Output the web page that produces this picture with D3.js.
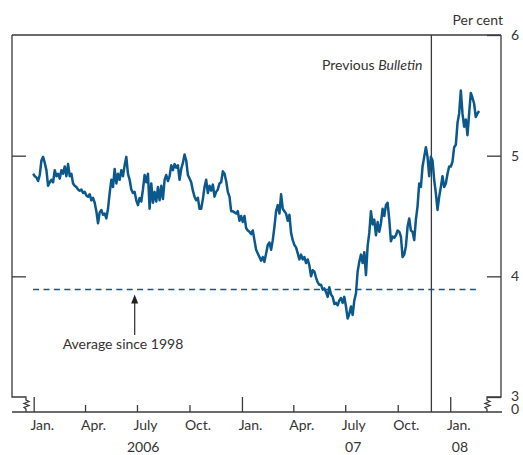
<!DOCTYPE html>
<html>
<head>
<meta charset="utf-8">
<script src="https://cdn.jsdelivr.net/npm/d3@7"></script>
<style>
body{margin:0;background:#fff;}
text{font-family:Lato,"Open Sans",sans-serif;fill:#333;}
</style>
</head>
<body>
<svg id="chart" width="523" height="455"></svg>
<script>
// readings of the series, one every 70 hours from 31 Dec 2005
var seriesStart = new Date(2005, 11, 31);
var stepHours = 70;
var yields = [
  4.85,4.83,4.82,4.79,4.84,4.96,4.99,4.94,4.88,4.75,4.78,4.80,4.78,4.88,4.83,4.85,4.81,4.88,4.85,4.91,
  4.83,4.93,4.83,4.85,4.77,4.75,4.74,4.72,4.71,4.72,4.69,4.70,4.67,4.66,4.68,4.63,4.65,4.61,4.54,4.44,
  4.53,4.55,4.51,4.52,4.48,4.56,4.69,4.80,4.74,4.89,4.77,4.85,4.80,4.88,4.83,4.92,4.99,4.85,4.80,4.72,
  4.69,4.70,4.63,4.59,4.65,4.62,4.72,4.84,4.78,4.85,4.56,4.77,4.61,4.70,4.62,4.74,4.63,4.75,4.64,4.80,
  4.84,4.79,4.83,4.92,4.88,4.93,4.90,4.92,4.80,4.89,4.94,5.01,4.96,4.84,4.81,4.78,4.71,4.66,4.63,4.65,
  4.56,4.56,4.64,4.74,4.80,4.69,4.75,4.71,4.76,4.66,4.70,4.72,4.77,4.78,4.87,4.85,4.79,4.70,4.66,4.54,
  4.54,4.53,4.52,4.54,4.46,4.50,4.45,4.50,4.40,4.38,4.37,4.35,4.38,4.30,4.22,4.19,4.16,4.13,4.16,4.12,
  4.19,4.26,4.28,4.22,4.30,4.41,4.54,4.59,4.52,4.68,4.56,4.54,4.52,4.46,4.51,4.36,4.30,4.26,4.24,4.19,
  4.14,4.18,4.14,4.16,4.11,4.14,4.09,4.00,4.05,4.04,3.99,3.95,3.93,3.93,3.89,3.90,3.87,3.83,3.91,3.85,
  3.83,3.77,3.78,3.76,3.80,3.82,3.78,3.83,3.75,3.65,3.69,3.75,3.68,3.80,3.86,4.04,4.12,4.18,4.11,4.20,
  4.01,4.25,4.36,4.54,4.43,4.47,4.34,4.45,4.37,4.44,4.56,4.50,4.59,4.61,4.47,4.29,4.33,4.32,4.34,4.38,
  4.37,4.33,4.16,4.18,4.25,4.41,4.48,4.38,4.37,4.30,4.47,4.58,4.77,4.74,4.91,4.99,5.07,4.99,4.83,4.99,
  4.96,4.80,4.69,4.55,4.66,4.74,4.83,4.74,4.77,4.85,4.91,4.91,4.95,5.07,5.09,5.27,5.35,5.54,5.35,5.24,
  5.30,5.17,5.35,5.52,5.48,5.43,5.32,5.35,5.37
];

var averageSince1998 = 3.89;
var averageSpan = [new Date(2005, 11, 31), new Date(2008, 1, 16)];
var bulletinDate = new Date(2007, 10, 29);

var quarterTicks = [
  new Date(2006,0,1), new Date(2006,3,1), new Date(2006,6,1), new Date(2006,9,1),
  new Date(2007,0,1), new Date(2007,3,1), new Date(2007,6,1), new Date(2007,9,1),
  new Date(2008,0,1)
];
var monthLabels = ["Jan.","Apr.","July","Oct.","Jan.","Apr.","July","Oct.","Jan."];
var yearLabels = ["2006","07","08"];
var yearLabelDates = [new Date(2006,6,12), new Date(2007,6,15), new Date(2008,0,18)];
var yTicks = [3,4,5,6];

var blue = "#0b588c";
var ink = "#3a3a3a";

var svg = d3.select("#chart");

var x = d3.scaleTime()
    .domain([new Date(2005,10,24), new Date(2008,2,30)])
    .range([12, 501]);
var y = d3.scaleLinear()
    .domain([3, 6])
    .range([397, 35]);
var axisY = 412;

var points = yields.map(function(v, i){
    return {date: d3.timeHour.offset(seriesStart, i*stepHours), value: v};
});

// frame with broken bottom corners
function brk(xc){
    return "V" + (y(3)+3) + "L" + (xc+3) + "," + (y(3)+4.5) + "L" + (xc-2) + "," + (y(3)+6.5) +
        "L" + (xc+3) + "," + (y(3)+8.5) + "L" + (xc-2) + "," + (y(3)+10.5) + "L" + xc + "," + (y(3)+12) + "V" + axisY;
}
svg.append("path")
    .attr("d", "M" + x.range()[0] + "," + y(6) + "H" + x.range()[1])
    .attr("stroke", ink).attr("stroke-width", 1.3).attr("fill", "none");
svg.append("path")
    .attr("d", "M" + x.range()[0] + "," + y(6) + "V" + y(3) + "H26" + brk(26))
    .attr("stroke", ink).attr("stroke-width", 1.3).attr("fill", "none");
svg.append("path")
    .attr("d", "M" + x.range()[1] + "," + y(6) + "V" + y(3) + "H487" + brk(487))
    .attr("stroke", ink).attr("stroke-width", 1.3).attr("fill", "none");
svg.append("line")
    .attr("x1", x.range()[0]).attr("x2", x.range()[1] + 1)
    .attr("y1", axisY).attr("y2", axisY)
    .attr("stroke", ink).attr("stroke-width", 1.3);

// y ticks inside both sides, labels on the right
var rightAxis = svg.append("g")
    .attr("transform", "translate(" + x.range()[1] + ",0)")
    .call(d3.axisRight(y).tickValues(yTicks).tickSize(-14).tickPadding(10).tickFormat(d3.format("d")));
var leftAxis = svg.append("g")
    .attr("transform", "translate(" + x.range()[0] + ",0)")
    .call(d3.axisLeft(y).tickValues([4,5]).tickSize(-14).tickFormat(""));
[rightAxis, leftAxis].forEach(function(g){
    g.select(".domain").remove();
    g.selectAll("line").attr("stroke", ink).attr("stroke-width", 1.3);
    g.selectAll("text").attr("fill", "#333").style("font-size", "14px").style("font-family", "Lato");
});
// the "3" sits just above the break, a little tighter
rightAxis.selectAll(".tick text")
    .filter(function(d){ return d == 3; })
    .attr("dy", "0.25em");
svg.append("text")
    .text("0")
    .attr("x", x.range()[1] + 10)
    .attr("y", axisY + 2)
    .style("font-size", "14px");
svg.append("text")
    .text("Per cent")
    .attr("x", 503)
    .attr("y", 25)
    .attr("text-anchor", "end")
    .style("font-size", "14px");

// x axis ticks, taller at each year
var xAxis = svg.append("g")
    .attr("transform", "translate(0," + axisY + ")")
    .call(d3.axisBottom(x).tickValues(quarterTicks).tickSize(-7).tickFormat(""));
xAxis.select(".domain").remove();
xAxis.selectAll("line")
    .attr("stroke", ink).attr("stroke-width", 1.3)
    .attr("y2", function(d){ return d.getMonth() == 0 ? -(axisY - y(3)) : -7; });

svg.selectAll(".month")
    .data(quarterTicks)
    .enter().append("text")
    .attr("class", "month")
    .text(function(d, i){ return monthLabels[i]; })
    .attr("x", function(d){ return x(d3.timeDay.offset(d, 15)); })
    .attr("y", 430)
    .attr("text-anchor", "middle")
    .style("font-size", "14px");
svg.selectAll(".year")
    .data(yearLabelDates)
    .enter().append("text")
    .attr("class", "year")
    .text(function(d, i){ return yearLabels[i]; })
    .attr("x", function(d){ return x(d); })
    .attr("y", 452)
    .attr("text-anchor", "middle")
    .style("font-size", "14px");

// previous bulletin marker
svg.append("line")
    .attr("x1", x(bulletinDate)).attr("x2", x(bulletinDate))
    .attr("y1", y(6)).attr("y2", axisY)
    .attr("stroke", ink).attr("stroke-width", 1.3);
var pb = svg.append("text")
    .attr("x", x(bulletinDate) - 9)
    .attr("y", 70)
    .attr("text-anchor", "end")
    .style("font-size", "14px");
pb.append("tspan").text("Previous ");
pb.append("tspan").text("Bulletin").style("font-style", "italic");

// long-run average
svg.append("line")
    .attr("x1", x(averageSpan[0])).attr("x2", x(averageSpan[1]))
    .attr("y1", y(averageSince1998)).attr("y2", y(averageSince1998))
    .attr("stroke", blue).attr("stroke-width", 1.5)
    .attr("stroke-dasharray", "6,4.4");

var arrowX = x(new Date(2006,5,27));
svg.append("line")
    .attr("x1", arrowX).attr("x2", arrowX)
    .attr("y1", 335).attr("y2", y(averageSince1998) + 12)
    .attr("stroke", ink).attr("stroke-width", 1.3);
svg.append("path")
    .attr("d", "M" + arrowX + "," + (y(averageSince1998) + 5) + "l-3.5,9h7z")
    .attr("fill", "#222");
svg.append("text")
    .text("Average since 1998")
    .attr("x", 123)
    .attr("y", 349)
    .attr("text-anchor", "middle")
    .style("font-size", "14px");

// the series
var line = d3.line()
    .x(function(d){ return x(d.date); })
    .y(function(d){ return y(d.value); });
svg.append("path")
    .datum(points)
    .attr("d", line)
    .attr("fill", "none")
    .attr("stroke", blue)
    .attr("stroke-width", 2.5)
    .attr("stroke-linejoin", "round");
</script>
</body>
</html>
